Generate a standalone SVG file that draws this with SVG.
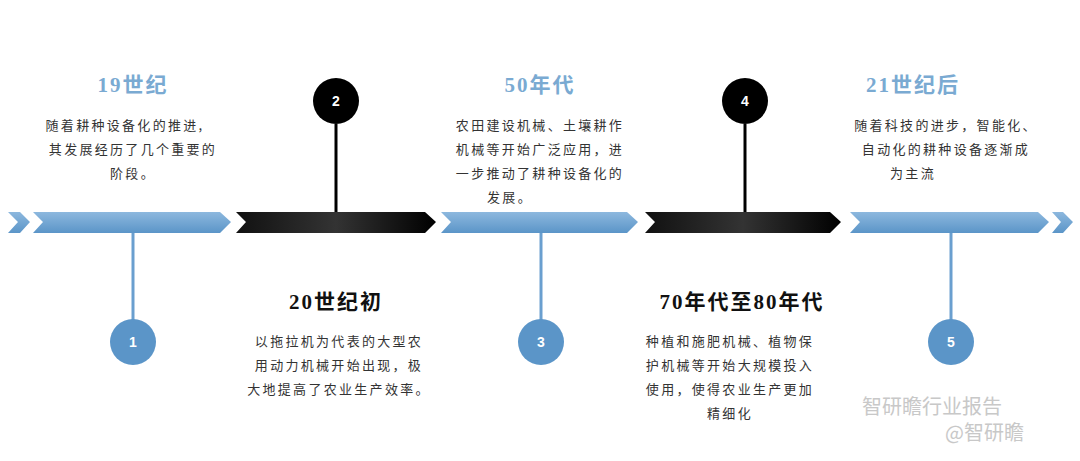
<svg xmlns="http://www.w3.org/2000/svg" width="1080" height="461" viewBox="0 0 1080 461">
<defs>
<linearGradient id="bl" x1="0" y1="0" x2="0" y2="1"><stop offset="0" stop-color="#8db8de"/><stop offset="1" stop-color="#5b95c8"/></linearGradient>
<linearGradient id="bk" x1="0" y1="0" x2="1" y2="0"><stop offset="0" stop-color="#111"/><stop offset="0.5" stop-color="#333"/><stop offset="1" stop-color="#000"/></linearGradient>
</defs>
<style>
.t{font-family:"Liberation Serif","Noto Sans CJK SC",serif;font-size:21px;font-weight:bold;text-anchor:middle;letter-spacing:2px}
.b{font-family:"Noto Sans CJK SC",sans-serif;font-size:13px;fill:#333;text-anchor:middle;letter-spacing:2.3px}
.n{font-family:"Liberation Sans",sans-serif;font-size:14px;font-weight:bold;fill:#fff;text-anchor:middle}
.sb{stroke:#6a9fcf;stroke-width:3}
.sk{stroke:#000;stroke-width:3}
</style>
<g id="band">
<polygon points="8,212 20,212 30,222 20,233 8,233 18,222" fill="url(#bl)"/>
<polygon points="33,212 220,212 231,222 220,233 33,233 43,222" fill="url(#bl)"/>
<polygon points="236,212 425,212 436,222 425,233 236,233 246,222" fill="url(#bk)"/>
<polygon points="441,212 627,212 638,222 627,233 441,233 451,222" fill="url(#bl)"/>
<polygon points="645,212 830,212 841,222 830,233 645,233 655,222" fill="url(#bk)"/>
<polygon points="850,212 1038,212 1049,222 1038,233 850,233 860,222" fill="url(#bl)"/>
<polygon points="1052,212 1063,212 1073,222 1063,233 1052,233 1061,222" fill="url(#bl)"/>
</g>
<g id="connectors">
<line x1="133" y1="233" x2="133" y2="320" class="sb"/>
<line x1="336" y1="124" x2="336" y2="212" class="sk"/>
<line x1="541" y1="233" x2="541" y2="320" class="sb"/>
<line x1="745" y1="124" x2="745" y2="212" class="sk"/>
<line x1="951" y1="233" x2="951" y2="320" class="sb"/>
</g>
<g id="n1"><circle cx="133" cy="342" r="23" fill="#5b95c8"/><text x="133" y="347" class="n">1</text>
<text x="133" y="92" class="t" fill="#7aaad2">19世纪</text>
<text class="b"><tspan x="125" y="130">随着耕种设备化的推进,</tspan><tspan x="133" y="154">其发展经历了几个重要的</tspan><tspan x="133" y="178">阶段。</tspan></text></g>
<g id="n2"><circle cx="336" cy="101" r="23" fill="#000"/><text x="336" y="106" class="n">2</text>
<text x="336" y="309" class="t" fill="#111">20世纪初</text>
<text class="b"><tspan x="339" y="346">以拖拉机为代表的大型农</tspan><tspan x="339" y="370">用动力机械开始出现，极</tspan><tspan x="339" y="394">大地提高了农业生产效率。</tspan></text></g>
<g id="n3"><circle cx="541" cy="342" r="23" fill="#5b95c8"/><text x="541" y="347" class="n">3</text>
<text x="540" y="92" class="t" fill="#7aaad2">50年代</text>
<text class="b"><tspan x="540" y="130">农田建设机械、土壤耕作</tspan><tspan x="540" y="154">机械等开始广泛应用，进</tspan><tspan x="540" y="178">一步推动了耕种设备化的</tspan><tspan x="510" y="202">发展。</tspan></text></g>
<g id="n4"><circle cx="745" cy="101" r="23" fill="#000"/><text x="745" y="106" class="n">4</text>
<text x="742" y="309" class="t" fill="#111">70年代至80年代</text>
<text class="b"><tspan x="730" y="346">种植和施肥机械、植物保</tspan><tspan x="730" y="370">护机械等开始大规模投入</tspan><tspan x="730" y="394">使用，使得农业生产更加</tspan><tspan x="730" y="418">精细化</tspan></text></g>
<g id="n5"><circle cx="951" cy="342" r="23" fill="#5b95c8"/><text x="951" y="347" class="n">5</text>
<text x="913" y="92" class="t" fill="#7aaad2">21世纪后</text>
<text class="b"><tspan x="946" y="130">随着科技的进步，智能化、</tspan><tspan x="946" y="154">自动化的耕种设备逐渐成</tspan><tspan x="913" y="178">为主流</tspan></text></g>
<g id="watermark" font-family="Noto Sans CJK SC,sans-serif" fill="#bbb" opacity="0.8">
<text x="862" y="414" font-size="20">智研瞻行业报告</text>
<text x="945" y="440" font-size="20">@智研瞻</text>
</g>
</svg>
